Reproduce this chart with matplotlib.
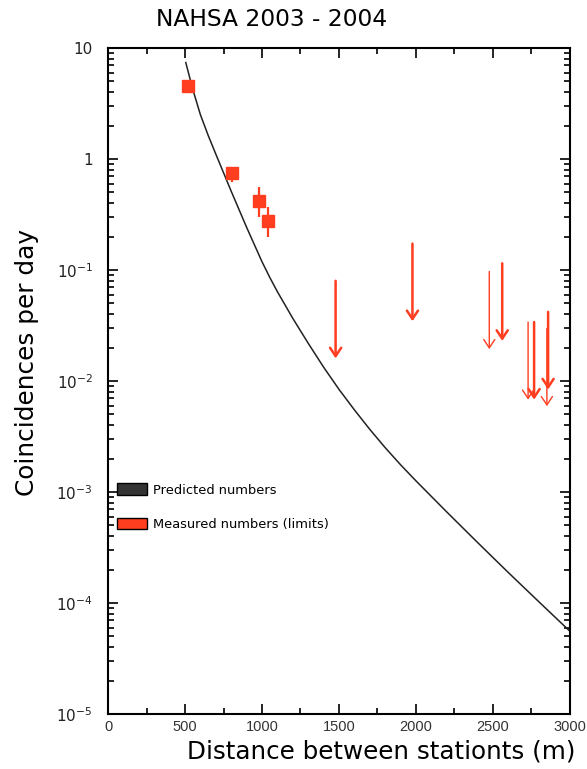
import matplotlib
matplotlib.use("Agg")
import matplotlib.pyplot as plt
from matplotlib.patches import Patch
from matplotlib.ticker import LogLocator, FixedLocator, NullFormatter

# predicted coincidence rate (curve)
pred_dist = [505, 550, 600, 650, 700, 800, 900, 1000, 1050, 1100, 1200, 1300,
             1400, 1500, 1600, 1700, 1800, 1900, 2000, 2200, 2400, 2600, 2800,
             3000]
pred_rate = [7.41, 4.27, 2.51, 1.64, 1.109, 0.513, 0.2427, 0.1189, 0.0861,
             0.0638, 0.0367, 0.0219, 0.01334, 0.00841, 0.00550, 0.00367,
             0.00251, 0.00176, 0.00126, 6.61e-4, 3.51e-4, 1.88e-4, 1.02e-4,
             5.56e-5]

# measured numbers with errors
meas_dist = [521, 803, 983, 1041]
meas_rate = [4.55, 0.743, 0.418, 0.278]
meas_lo = [4.3, 0.625, 0.303, 0.20]
meas_hi = [4.8, 0.853, 0.563, 0.372]

# upper limits
ul_dist = [1478, 1977, 2476, 2560, 2728, 2767, 2850, 2858]
ul_rate = [0.080, 0.173, 0.097, 0.115, 0.034, 0.034, 0.0297, 0.042]
ul_width = [1.8, 1.8, 1.0, 1.8, 1.0, 1.8, 1.0, 1.8]

xticks = [0, 500, 1000, 1500, 2000, 2500, 3000]
yticks = [1e-5, 1e-4, 1e-3, 1e-2, 1e-1, 1, 10]
ytick_labels = [r"$10^{-5}$", r"$10^{-4}$", r"$10^{-3}$", r"$10^{-2}$",
                r"$10^{-1}$", "1", "10"]

red = "#ff3d1f"

fig = plt.figure(figsize=(5.87, 7.69), dpi=100)
ax = fig.add_axes([0.184, 0.0715, 0.787, 0.866])

ax.semilogy(pred_dist, pred_rate, color="#222222", lw=1.1)

err = [[r - lo for r, lo in zip(meas_rate, meas_lo)],
       [hi - r for r, hi in zip(meas_rate, meas_hi)]]
ax.errorbar(meas_dist, meas_rate, yerr=err, fmt="s", color=red,
            markersize=9, elinewidth=1.6, capsize=0, zorder=3)

for x, y, w in zip(ul_dist, ul_rate, ul_width):
    ax.annotate("", xy=(x, y / 5), xytext=(x, y),
                arrowprops=dict(arrowstyle="->,head_width=0.4,head_length=0.6",
                                color=red, lw=w, shrinkA=0, shrinkB=0))

ax.set_xlim(0, 3000)
ax.set_ylim(1e-5, 10)

ax.xaxis.set_major_locator(FixedLocator(xticks))
ax.xaxis.set_minor_locator(FixedLocator([250, 750, 1250, 1750, 2250, 2750]))
ax.set_xticklabels([str(t) for t in xticks], fontsize=10.5, color="#333333",
                   family="Liberation Sans")

ax.yaxis.set_major_locator(FixedLocator(yticks))
ax.yaxis.set_minor_locator(LogLocator(base=10, subs=range(2, 10)))
ax.yaxis.set_minor_formatter(NullFormatter())
ax.set_yticklabels(ytick_labels, fontsize=11, color="#222222")

ax.tick_params(which="both", direction="in", top=True, right=True, width=1.2)
ax.tick_params(which="major", length=7)
ax.tick_params(which="minor", length=4)
ax.tick_params(axis="x", which="major", pad=4)
ax.tick_params(axis="y", which="major", pad=11)
for s in ax.spines.values():
    s.set_linewidth(1.5)

handles = [Patch(facecolor="#333333", edgecolor="black", label="Predicted numbers"),
           Patch(facecolor=red, edgecolor="black", label="Measured numbers (limits)")]
ax.legend(handles=handles, loc="upper left", bbox_to_anchor=(0.009, 0.354),
          frameon=False, fontsize=9.4, handlelength=2.3, handleheight=1.0,
          labelspacing=1.6, handletextpad=0.45, borderaxespad=0, borderpad=0.4)

fig.text(272 / 587, 1 - 19 / 769, "NAHSA 2003 - 2004", fontsize=16.8,
         ha="center", va="center")
fig.text(27 / 587, 1 - 362 / 769, "Coincidences per day", fontsize=17.8,
         rotation=90, ha="center", va="center")
fig.text(381 / 587, 1 - 751 / 769, "Distance between stationts (m)",
         fontsize=17.7, ha="center", va="center")

fig.savefig("out.png", dpi=100)
